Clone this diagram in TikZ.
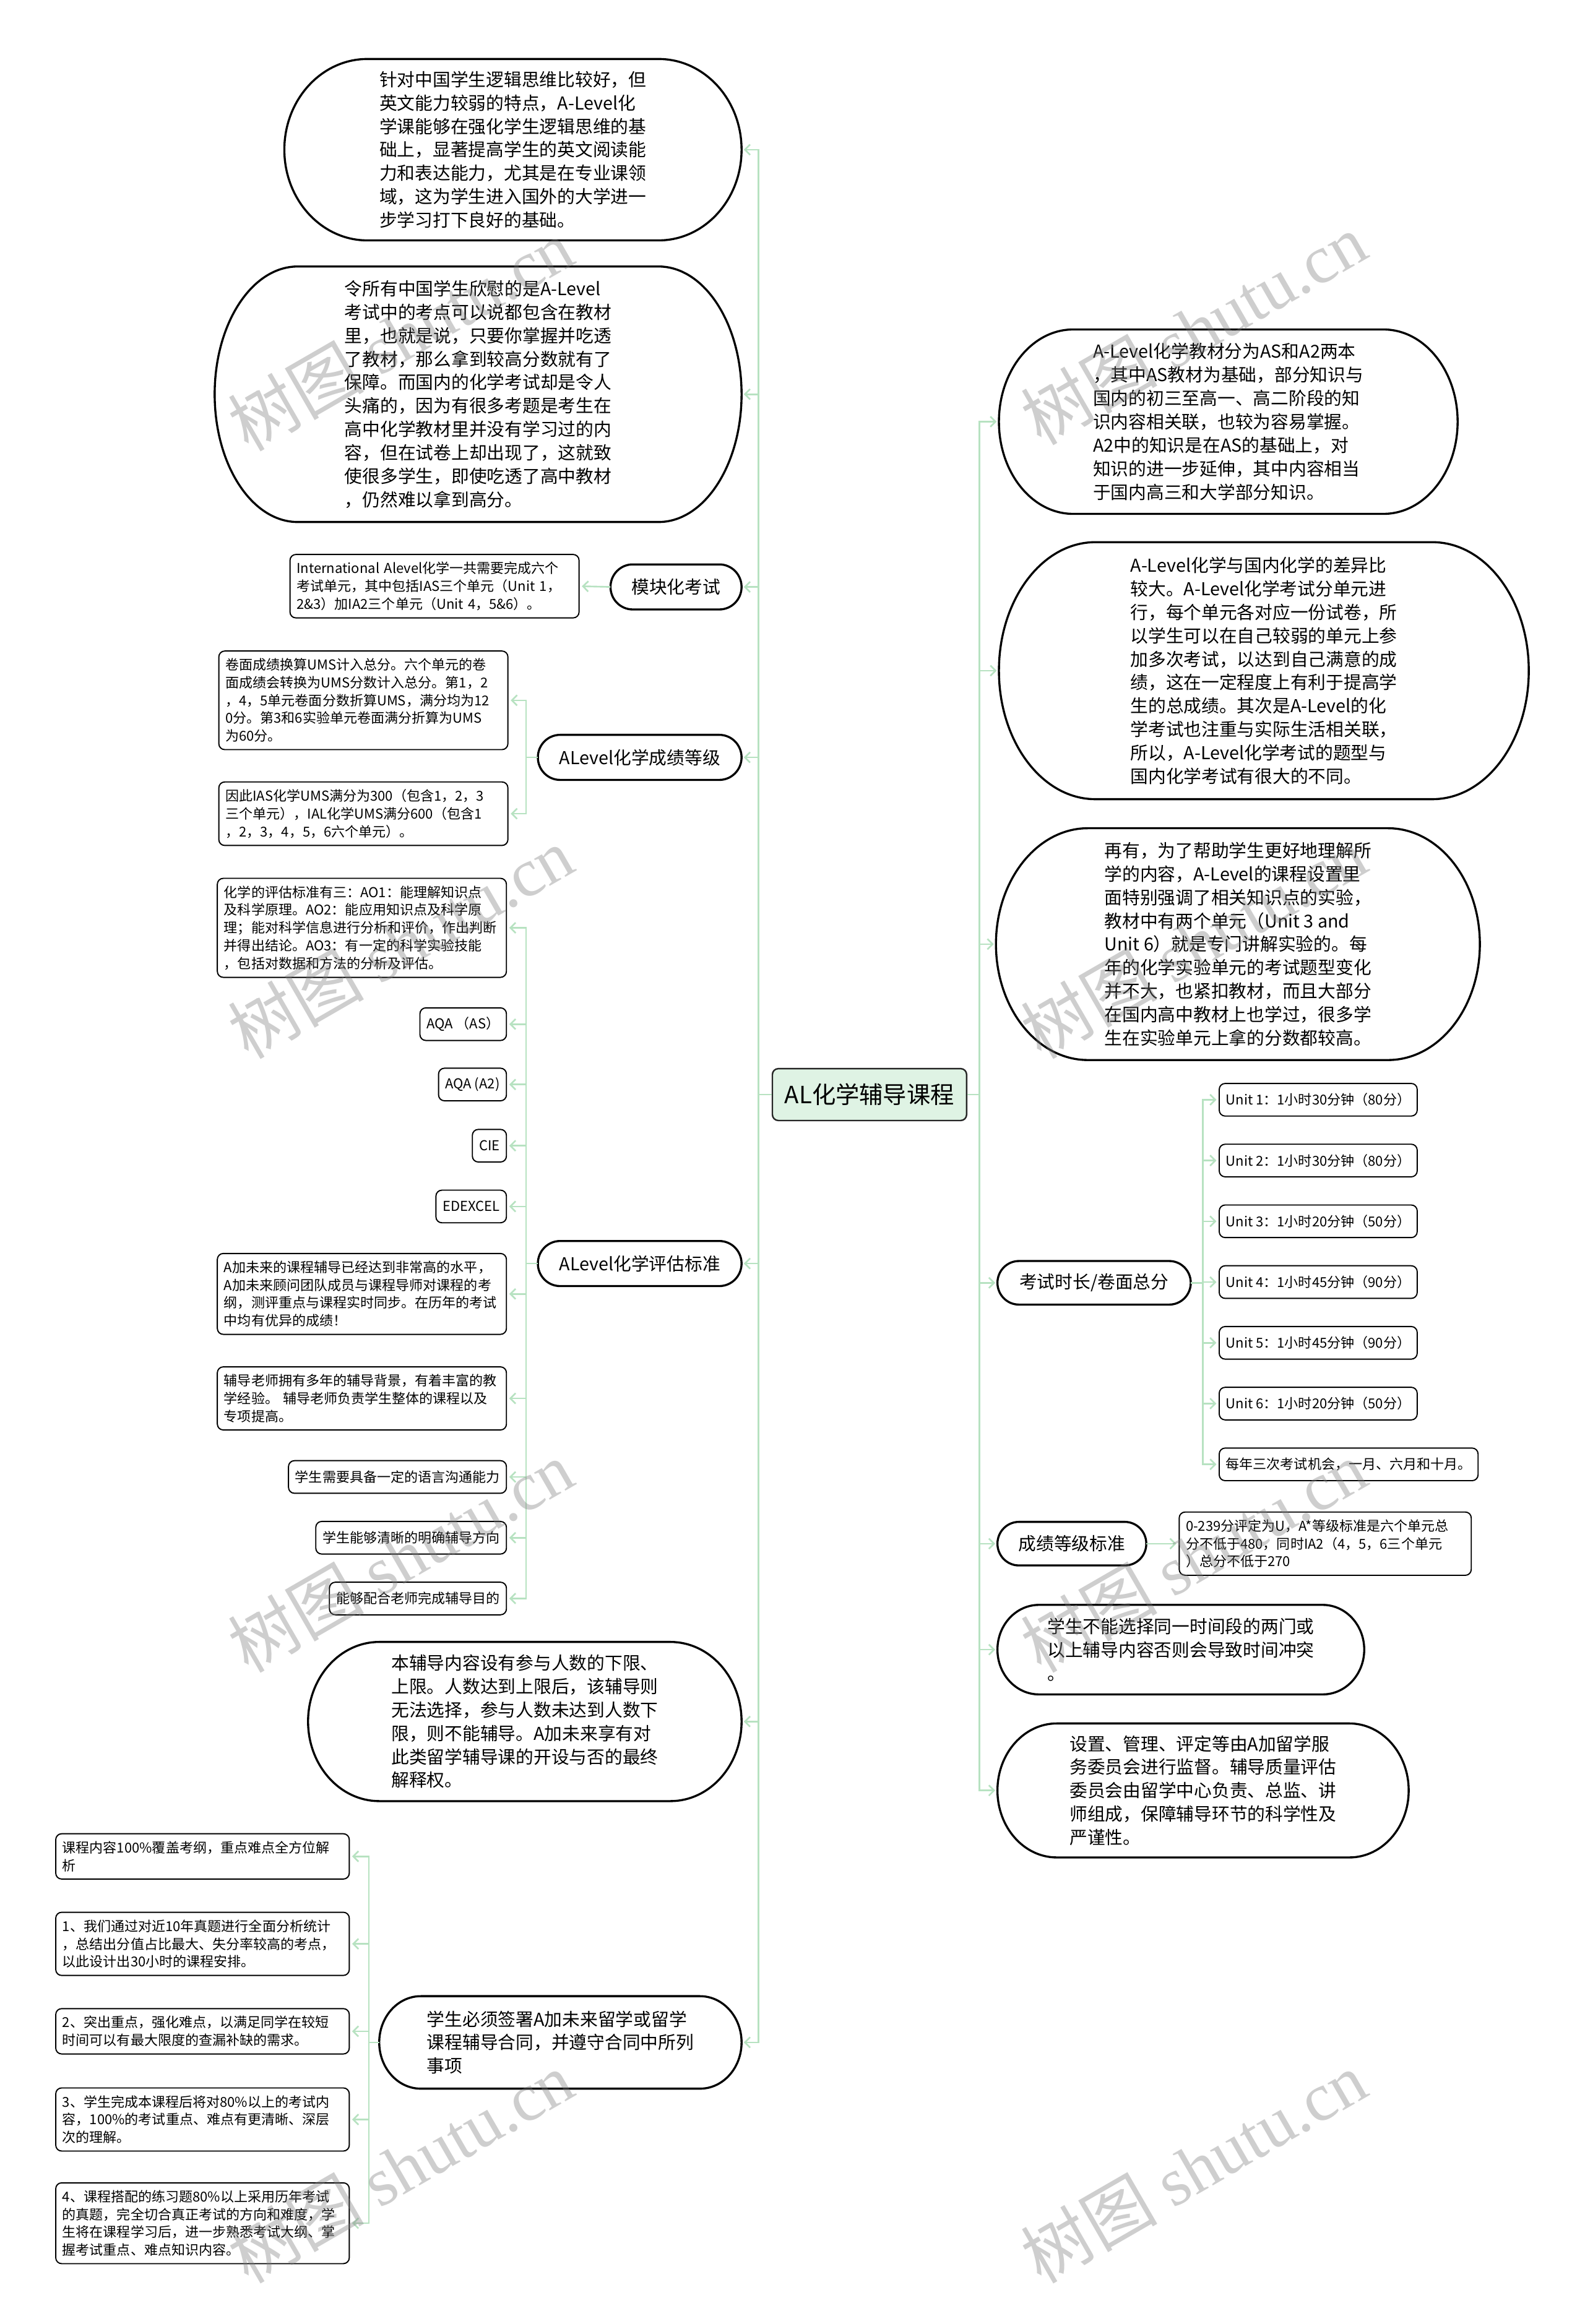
\documentclass[tikz,border=0pt]{standalone}
\usepackage{fontspec}
\setmainfont{Noto Sans CJK SC}
\newfontfamily\wmserif{Liberation Serif}
\usetikzlibrary{arrows.meta,calc}
\definecolor{lineg}{RGB}{183,226,193}
\definecolor{centerfill}{RGB}{223,243,228}
\tikzset{
  conn/.style={draw=lineg, line width=1.1pt, -{Straight Barb[length=3.5pt,width=7pt,line width=1.1pt]}, shorten >=1.5pt},
  stadbox/.style={inner sep=0pt, align=left, font=\fontsize{12}{15.8}\selectfont},
  stadborder/.style={draw=black, line width=1.4pt},
  cnode/.style={draw=black!85, line width=1pt, rounded corners=4pt, fill=centerfill, font=\fontsize{16}{18}\selectfont, inner sep=0pt},
  sbox/.style={draw=black, line width=0.8pt, rounded corners=4pt, fill=white, align=left, font=\fontsize{9.2}{12}\selectfont, inner xsep=4.5pt, inner ysep=5pt},
  sboxw/.style={sbox, text width=#1},
  sboxs/.style={sbox, minimum height=22pt},
  wm/.style={rotate=30, font=\fontsize{46}{50}\selectfont, text=black!50, opacity=0.38, inner sep=0pt}
}
\newcommand\stadline[2]{%
  \draw[stadborder] let \p1=(#1.north), \p2=(#1.south), \n1={(\y1-\y2)/2} in
   ([xshift=-#2]#1.north east) arc[start angle=90,end angle=-90,x radius=#2,y radius=\n1]
   -- ([xshift=#2]#1.south west) arc[start angle=270,end angle=90,x radius=#2,y radius=\n1] -- cycle;}
\begin{document}
\begin{tikzpicture}[x=1pt,y=1pt]
\fill[white] (0,0) rectangle (1069,-1568);
\useasboundingbox (0,0) rectangle (1069,-1568);

% central
\node[cnode, minimum width=131pt, minimum height=35pt] (c) at (586.5,-738.5) {AL化学辅导课程};

% left main branches
\node[stadbox, minimum width=308pt, minimum height=122pt] (l1) at (346,-101) {针对中国学生逻辑思维比较好，但\\英文能力较弱的特点，A-Level化\\学课能够在强化学生逻辑思维的基\\础上，显著提高学生的英文阅读能\\力和表达能力，尤其是在专业课领\\域，这为学生进入国外的大学进一\\步学习打下良好的基础。};
\stadline{l1}{56pt}
\node[stadbox, minimum width=355pt, minimum height=172pt] (l2) at (322.5,-266) {令所有中国学生欣慰的是A-Level\\考试中的考点可以说都包含在教材\\里，也就是说，只要你掌握并吃透\\了教材，那么拿到较高分数就有了\\保障。而国内的化学考试却是令人\\头痛的，因为有很多考题是考生在\\高中化学教材里并没有学习过的内\\容，但在试卷上却出现了，这就致\\使很多学生，即使吃透了高中教材\\，仍然难以拿到高分。};
\stadline{l2}{56pt}
\node[stadbox, minimum width=88pt, minimum height=30pt] (l3) at (456,-396) {模块化考试};
\stadline{l3}{15pt}
\node[stadbox, minimum width=137pt, minimum height=30pt] (l4) at (431.5,-511) {ALevel化学成绩等级};
\stadline{l4}{15pt}
\node[stadbox, minimum width=137pt, minimum height=30pt] (l5) at (431.5,-852.5) {ALevel化学评估标准};
\stadline{l5}{15pt}
\node[stadbox, minimum width=292pt, minimum height=107pt] (l6) at (354,-1161.5) {本辅导内容设有参与人数的下限、\\上限。人数达到上限后，该辅导则\\无法选择，参与人数未达到人数下\\限，则不能辅导。A加未来享有对\\此类留学辅导课的开设与否的最终\\解释权。};
\stadline{l6}{48pt}
\node[stadbox, minimum width=244pt, minimum height=62pt] (l7) at (378,-1378) {学生必须签署A加未来留学或留学\\课程辅导合同，并遵守合同中所列\\事项};
\stadline{l7}{28pt}

% right main branches
\node[stadbox, minimum width=309pt, minimum height=124pt] (r1) at (828.5,-284.5) {A-Level化学教材分为AS和A2两本\\，其中AS教材为基础，部分知识与\\国内的初三至高一、高二阶段的知\\识内容相关联，也较为容易掌握。\\A2中的知识是在AS的基础上，对\\知识的进一步延伸，其中内容相当\\于国内高三和大学部分知识。};
\stadline{r1}{50pt}
\node[stadbox, minimum width=357pt, minimum height=173pt] (r2) at (852.5,-452.5) {A-Level化学与国内化学的差异比\\较大。A-Level化学考试分单元进\\行，每个单元各对应一份试卷，所\\以学生可以在自己较弱的单元上参\\加多次考试，以达到自己满意的成\\绩，这在一定程度上有利于提高学\\生的总成绩。其次是A-Level的化\\学考试也注重与实际生活相关联，\\所以，A-Level化学考试的题型与\\国内化学考试有很大的不同。};
\stadline{r2}{65pt}
\node[stadbox, minimum width=326pt, minimum height=156pt] (r3) at (835,-637) {再有，为了帮助学生更好地理解所\\学的内容，A-Level的课程设置里\\面特别强调了相关知识点的实验，\\教材中有两个单元（Unit~3~and\\Unit~6）就是专门讲解实验的。每\\年的化学实验单元的考试题型变化\\并不大，也紧扣教材，而且大部分\\在国内高中教材上也学过，很多学\\生在实验单元上拿的分数都较高。};
\stadline{r3}{62pt}
\node[stadbox, minimum width=130pt, minimum height=29pt] (r4) at (738,-865.5) {考试时长/卷面总分};
\stadline{r4}{14.5pt}
\node[stadbox, minimum width=100pt, minimum height=29pt] (r5) at (723,-1041.5) {成绩等级标准};
\stadline{r5}{14.5pt}
\node[stadbox, minimum width=247pt, minimum height=60pt] (r6) at (796.5,-1113) {学生不能选择同一时间段的两门或\\以上辅导内容否则会导致时间冲突\\。};
\stadline{r6}{28pt}
\node[stadbox, minimum width=277pt, minimum height=90pt] (r7) at (811.5,-1208) {设置、管理、评定等由A加留学服\\务委员会进行监督。辅导质量评估\\委员会由留学中心负责、总监、讲\\师组成，保障辅导环节的科学性及\\严谨性。};
\stadline{r7}{40pt}

% level 2 left
\node[sboxw=186pt, anchor=east] (m1) at (391,-395.5) {International~Alevel化学一共需要完成六个\\考试单元，其中包括IAS三个单元（Unit~1，\\2\&3）加IA2三个单元（Unit~4，5\&6）。};
\node[sboxw=186pt, anchor=east] (s1) at (343,-472.5) {卷面成绩换算UMS计入总分。六个单元的卷\\面成绩会转换为UMS分数计入总分。第1，2\\，4，5单元卷面分数折算UMS，满分均为12\\0分。第3和6实验单元卷面满分折算为UMS\\为60分。};
\node[sboxw=186pt, anchor=east] (s2) at (343,-549) {因此IAS化学UMS满分为300（包含1，2，3\\三个单元），IAL化学UMS满分600（包含1\\，2，3，4，5，6六个单元）。};
\node[sboxw=186pt, anchor=east] (e1) at (342,-626) {化学的评估标准有三：AO1：能理解知识点\\及科学原理。AO2：能应用知识点及科学原\\理；能对科学信息进行分析和评价，作出判断\\并得出结论。AO3：有一定的科学实验技能\\，包括对数据和方法的分析及评估。};
\node[sboxs, anchor=east] (e2) at (342,-691) {AQA （AS）};
\node[sboxs, anchor=east] (e3) at (342,-731.7) {AQA (A2)};
\node[sboxs, anchor=east] (e4) at (342,-773) {CIE};
\node[sboxs, anchor=east] (e5) at (342,-814) {EDEXCEL};
\node[sboxw=186pt, anchor=east] (e6) at (342,-873) {A加未来的课程辅导已经达到非常高的水平，\\A加未来顾问团队成员与课程导师对课程的考\\纲，测评重点与课程实时同步。在历年的考试\\中均有优异的成绩！};
\node[sboxw=186pt, anchor=east] (e7) at (342,-943.5) {辅导老师拥有多年的辅导背景，有着丰富的教\\学经验。~辅导老师负责学生整体的课程以及\\专项提高。};
\node[sboxs, anchor=east] (e8) at (342,-996.5) {学生需要具备一定的语言沟通能力};
\node[sboxs, anchor=east] (e9) at (342,-1037.5) {学生能够清晰的明确辅导方向};
\node[sboxs, anchor=east] (e10) at (342,-1078.5) {能够配合老师完成辅导目的};

\node[sboxw=189pt, anchor=east] (p1) at (236,-1252.5) {课程内容100\%覆盖考纲，重点难点全方位解\\析};
\node[sboxw=189pt, anchor=east] (p2) at (236,-1311.5) {1、我们通过对近10年真题进行全面分析统计\\，总结出分值占比最大、失分率较高的考点，\\以此设计出30小时的课程安排。};
\node[sboxw=189pt, anchor=east] (p3) at (236,-1370.5) {2、突出重点，强化难点，以满足同学在较短\\时间可以有最大限度的查漏补缺的需求。};
\node[sboxw=189pt, anchor=east] (p4) at (236,-1430) {3、学生完成本课程后将对80\%以上的考试内\\容，100\%的考试重点、难点有更清晰、深层\\次的理解。};
\node[sboxw=189pt, anchor=east] (p5) at (236,-1500) {4、课程搭配的练习题80\%以上采用历年考试\\的真题，完全切合真正考试的方向和难度，学\\生将在课程学习后，进一步熟悉考试大纲、掌\\握考试重点、难点知识内容。};

% level 2 right
\node[sboxs, anchor=west] (u1) at (822,-742) {Unit 1：1小时30分钟（80分）};
\node[sboxs, anchor=west] (u2) at (822,-783) {Unit 2：1小时30分钟（80分）};
\node[sboxs, anchor=west] (u3) at (822,-824) {Unit 3：1小时20分钟（50分）};
\node[sboxs, anchor=west] (u4) at (822,-865) {Unit 4：1小时45分钟（90分）};
\node[sboxs, anchor=west] (u5) at (822,-906) {Unit 5：1小时45分钟（90分）};
\node[sboxs, anchor=west] (u6) at (822,-947) {Unit 6：1小时20分钟（50分）};
\node[sboxs, anchor=west] (u7) at (822,-988) {每年三次考试机会，一月、六月和十月。};
\node[sboxw=188pt, anchor=west] (g1) at (795,-1041.5) {0-239分评定为U，A*等级标准是六个单元总\\分不低于480，同时IA2（4，5，6三个单元\\）总分不低于270};

% connectors
\foreach \n in {l1,l2,l3,l4,l5,l6,l7} \draw[conn] (c.west) -- ++(-9,0) |- (\n.east);
\foreach \n in {r1,r2,r3,r4,r5,r6,r7} \draw[conn] (c.east) -- ++(8,0) |- (\n.west);
\draw[conn] (l3.west) -- (m1.east);
\foreach \n in {s1,s2} \draw[conn] (l4.west) -- ++(-8,0) |- (\n.east);
\foreach \n in {e1,e2,e3,e4,e5,e6,e7,e8,e9,e10} \draw[conn] (l5.west) -- ++(-8,0) |- (\n.east);
\foreach \n in {p1,p2,p3,p4,p5} \draw[conn] (l7.west) -- ++(-7,0) |- (\n.east);
\foreach \n in {u1,u2,u3,u4,u5,u6,u7} \draw[conn] (r4.east) -- ++(8,0) |- (\n.west);
\draw[conn] (r5.east) -- (g1.west);

% watermarks
\foreach \wx/\wy [count=\i] in {270/226, 805/222, 270/636, 805/636, 270/1050, 805/1050, 270/1462, 805/1462}
  \node[wm, name=wm\i] at (\wx,-\wy) {树图 {\wmserif shutu.cn}};
\end{tikzpicture}
\end{document}
